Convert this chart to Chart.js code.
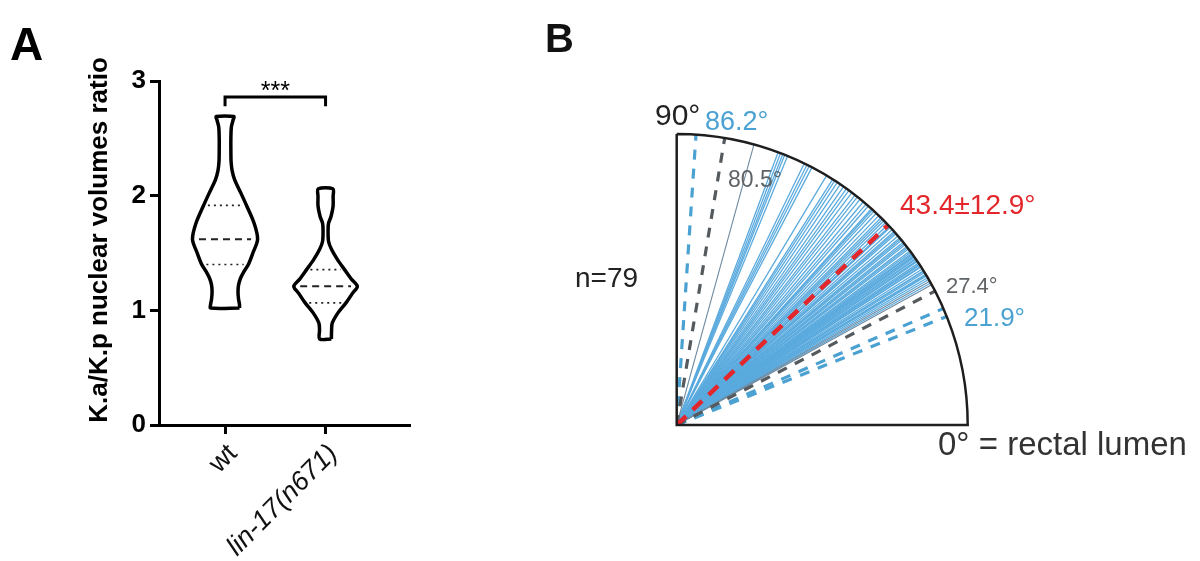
<!DOCTYPE html>
<html><head><meta charset="utf-8">
<script src="https://cdn.jsdelivr.net/npm/chart.js@4.4.0/dist/chart.umd.min.js"></script>
<style>
html,body{margin:0;padding:0;background:#fff;width:1200px;height:561px;overflow:hidden;}
#wa{position:absolute;left:0;top:0;width:440px;height:561px;}
#wb{position:absolute;left:540px;top:0;width:660px;height:561px;}
</style></head><body>
<div id="wa"><canvas id="ca"></canvas></div>
<div id="wb"><canvas id="cb"></canvas></div>
<script>
const FONT = "'Liberation Sans', Arial, Helvetica, sans-serif";

// ---------- Panel A data ----------
const groups = ['wt', 'lin-17(n671)'];
const wtLevels    = [1.02, 1.05, 1.10, 1.16, 1.22, 1.28, 1.34, 1.40, 1.50, 1.62, 1.76, 1.91, 2.02, 2.14, 2.22, 2.30, 2.40, 2.50, 2.60, 2.66, 2.69];
const wtHalfWidth = [0.144, 0.144, 0.134, 0.129, 0.134, 0.154, 0.189, 0.232, 0.277, 0.324, 0.289, 0.216, 0.159, 0.095, 0.070, 0.060, 0.058, 0.058, 0.063, 0.080, 0.087];
const linLevels    = [0.75, 0.83, 0.89, 0.98, 1.065, 1.15, 1.21, 1.27, 1.355, 1.44, 1.53, 1.60, 1.70, 1.76, 1.82, 1.91, 1.99, 2.06];
const linHalfWidth = [0.058, 0.060, 0.067, 0.125, 0.203, 0.269, 0.316, 0.259, 0.189, 0.120, 0.060, 0.030, 0.025, 0.030, 0.055, 0.075, 0.075, 0.072];
const wtQuartiles  = [1.40, 1.62, 1.915];
const linQuartiles = [1.065, 1.21, 1.355];
const yTicksA = [0, 1, 2, 3];
const yTitleA = 'K.a/K.p nuclear volumes ratio';
const significance = '***';
const bracketLevels = [2.78, 2.86];
const starLevel = 2.95;

// ---------- Panel B data ----------
const blueRayAngles = [69.6, 69.1, 68.6, 68.2, 67.6, 64.0, 63.4, 62.9, 62.3,
  59.0, 57.6, 57.1, 56.5,
  55.8, 55.0, 54.3, 53.7, 53.0, 52.2, 51.6, 50.9, 50.1, 49.4, 48.8, 48.0, 47.3, 46.7, 46.0,
  45.4, 44.6, 44.1, 43.5, 42.8, 42.2, 41.7, 41.1, 40.5, 40.0, 39.4, 38.9, 38.3, 37.8, 37.2,
  36.7, 36.1, 35.6, 35.2, 34.7, 34.2, 33.8, 33.3, 32.9, 32.4, 32.0, 31.6, 31.2, 30.8, 30.4, 30.0,
  29.2,
  47.7, 45.0, 43.0, 41.4, 39.7, 38.6, 37.5, 36.4, 35.9, 35.4, 34.9, 34.4, 33.5, 33.0, 31.9, 31.0];
const greyRayAngles = [74.6, 29.6, 28.8];
const greyDashAngles = [80.5, 27.4];
const blueDashAngles = [86.2, 23.6, 21.9];
const meanAngle = 43.4;
const sdAngle = 12.9;
const nCells = 79;

// ---------- helpers ----------
function violinPath(center, levels, hw) {
  const right = levels.map((y, i) => ({x: center + hw[i], y}));
  const left = levels.map((y, i) => ({x: center - hw[i], y})).reverse();
  return [...right, ...left, right[0]];
}
function widthAt(levels, hw, q) {
  for (let i = 0; i < levels.length - 1; i++) {
    if (q >= levels[i] && q <= levels[i + 1]) {
      const t = (q - levels[i]) / (levels[i + 1] - levels[i]);
      return hw[i] + t * (hw[i + 1] - hw[i]);
    }
  }
  return hw[0];
}
function quartileSets(center, levels, hw, qs) {
  return qs.map((q, i) => {
    const w = widthAt(levels, hw, q) * 0.8;
    return {
      data: [{x: center - w, y: q}, {x: center + w, y: q}],
      showLine: true, borderColor: '#222', pointRadius: 0,
      borderWidth: i === 1 ? 2 : 1.6,
      borderDash: i === 1 ? [7, 5] : [2, 4]
    };
  });
}

const violinStyle = {showLine: true, borderColor: '#000', borderWidth: 3.5, pointRadius: 0, tension: 0.3, fill: false};

const dsA = [
  Object.assign({data: violinPath(1, wtLevels, wtHalfWidth)}, violinStyle),
  Object.assign({data: violinPath(2, linLevels, linHalfWidth)}, violinStyle),
  ...quartileSets(1, wtLevels, wtHalfWidth, wtQuartiles),
  ...quartileSets(2, linLevels, linHalfWidth, linQuartiles),
  {data: [{x: 1, y: bracketLevels[0]}, {x: 1, y: bracketLevels[1]}, {x: 2, y: bracketLevels[1]}, {x: 2, y: bracketLevels[0]}],
   showLine: true, borderColor: '#000', borderWidth: 3, pointRadius: 0, tension: 0}
];

const textA = {
  id: 'textA',
  afterDraw(chart) {
    const {ctx, scales: {x, y}} = chart;
    ctx.save();
    ctx.fillStyle = '#000';
    ctx.font = 'bold 46px ' + FONT;
    ctx.textAlign = 'left'; ctx.textBaseline = 'alphabetic';
    ctx.fillText('A', 10, 60);
    ctx.font = '25px ' + FONT;
    ctx.textAlign = 'center'; ctx.textBaseline = 'middle';
    ctx.fillText(significance, x.getPixelForValue(1.5), y.getPixelForValue(starLevel) + 5);
    ctx.translate(100, 240);
    ctx.rotate(-Math.PI / 2);
    ctx.font = 'bold 26px ' + FONT;
    ctx.textAlign = 'center'; ctx.textBaseline = 'middle';
    ctx.fillText(yTitleA, 0, 0);
    ctx.restore();
  }
};

new Chart(document.getElementById('ca'), {
  type: 'scatter',
  data: {datasets: dsA},
  options: {
    responsive: true, maintainAspectRatio: false, animation: false,
    layout: {padding: {top: 81, right: 30, bottom: 0, left: 0}},
    plugins: {legend: {display: false}, tooltip: {enabled: false}},
    scales: {
      x: {
        type: 'linear', min: 0.343, max: 2.84,
        afterBuildTicks(s) { s.ticks = groups.map((g, i) => ({value: i + 1})); },
        afterFit(s) { s.height = 136; },
        border: {display: true, color: '#000', width: 3},
        grid: {display: true, drawOnChartArea: false, drawTicks: true, tickLength: 9, tickWidth: 3, tickColor: '#000', color: '#000'},
        ticks: {
          autoSkip: false, minRotation: 45, maxRotation: 45, padding: 4, labelOffset: 8, color: '#111',
          font: (c) => ({family: FONT, size: 27, style: c.index === 1 ? 'italic' : 'normal'}),
          callback: (v) => groups[Math.round(v) - 1]
        }
      },
      y: {
        min: 0, max: 3,
        afterBuildTicks(s) { s.ticks = yTicksA.map(v => ({value: v})); },
        afterFit(s) { s.width = 159; },
        border: {display: true, color: '#000', width: 3},
        grid: {display: true, drawOnChartArea: false, drawTicks: true, tickLength: 9, tickWidth: 3, tickColor: '#000', color: '#000'},
        ticks: {padding: 4, color: '#000', font: {family: FONT, size: 26, weight: 'bold'}}
      }
    }
  },
  plugins: [textA]
});

// ---------- Panel B ----------
const BLUE = '#5aaade';
const BLUE_D = '#4ba2d2';
const GREY_D = '#555a5e';
const RED = '#e3262b';
const rad = d => d * Math.PI / 180;
const ray = d => [{x: 0, y: 0}, {x: Math.cos(rad(d)), y: Math.sin(rad(d))}];

const dsB = [];
blueRayAngles.forEach(a => dsB.push({data: ray(a), showLine: true, borderColor: BLUE, borderWidth: 1.3, pointRadius: 0, order: 10}));
greyRayAngles.forEach(a => dsB.push({data: ray(a), showLine: true, borderColor: '#6f8aa0', borderWidth: 1.1, pointRadius: 0, order: 9}));
greyDashAngles.forEach(a => dsB.push({data: ray(a), showLine: true, borderColor: GREY_D, borderWidth: 3.2, borderDash: [10, 9], pointRadius: 0, order: 2}));
blueDashAngles.forEach(a => dsB.push({data: ray(a), showLine: true, borderColor: BLUE_D, borderWidth: 3.2, borderDash: [10, 9], pointRadius: 0, order: 2}));
dsB.push({data: ray(meanAngle), showLine: true, borderColor: RED, borderWidth: 4.5, borderDash: [13, 9],
  pointRadius: c => c.dataIndex === 0 ? 4 : 0, pointBackgroundColor: RED, pointBorderWidth: 0, order: 0});

const frameB = {
  id: 'frameB',
  afterDatasetsDraw(chart) {
    const {ctx, scales: {x, y}} = chart;
    const ox = x.getPixelForValue(0), oy = y.getPixelForValue(0);
    const r = x.getPixelForValue(1) - ox;
    ctx.save();
    ctx.strokeStyle = '#1e1e1e'; ctx.lineWidth = 2.5;
    ctx.beginPath();
    ctx.moveTo(ox, y.getPixelForValue(1));
    ctx.lineTo(ox, oy);
    ctx.lineTo(x.getPixelForValue(1), oy);
    ctx.arc(ox, oy, r, 0, -Math.PI / 2, true);
    ctx.stroke();
    const txt = (s, px, py, size, color, bold) => {
      ctx.font = (bold ? 'bold ' : '') + size + 'px ' + FONT;
      ctx.fillStyle = color; ctx.textAlign = 'left'; ctx.textBaseline = 'alphabetic';
      ctx.fillText(s, px - 540, py);
    };
    txt('B', 545, 52, 40, '#111', true);
    txt('90°', 655, 125, 30, '#222');
    txt(blueDashAngles[0].toFixed(1) + '°', 705, 130, 27, BLUE_D);
    txt(greyDashAngles[0].toFixed(1) + '°', 728, 187, 23, '#5f6366');
    txt(meanAngle.toFixed(1) + '±' + sdAngle.toFixed(1) + '°', 900, 214, 28, RED);
    txt(greyDashAngles[1].toFixed(1) + '°', 946, 293, 22, '#5f6366');
    txt(blueDashAngles[2].toFixed(1) + '°', 964, 326, 26, BLUE_D);
    txt('0° = rectal lumen', 938, 455, 33, '#333');
    txt('n=' + nCells, 575, 287, 28, '#222');
    ctx.restore();
  }
};

new Chart(document.getElementById('cb'), {
  type: 'scatter',
  data: {datasets: dsB},
  options: {
    responsive: true, maintainAspectRatio: false, animation: false,
    layout: {padding: {top: 134, right: 232.3, bottom: 136, left: 136.7}},
    plugins: {legend: {display: false}, tooltip: {enabled: false}},
    scales: {
      x: {type: 'linear', min: 0, max: 1, display: false},
      y: {type: 'linear', min: 0, max: 1, display: false}
    }
  },
  plugins: [frameB]
});
</script>
</body></html>
